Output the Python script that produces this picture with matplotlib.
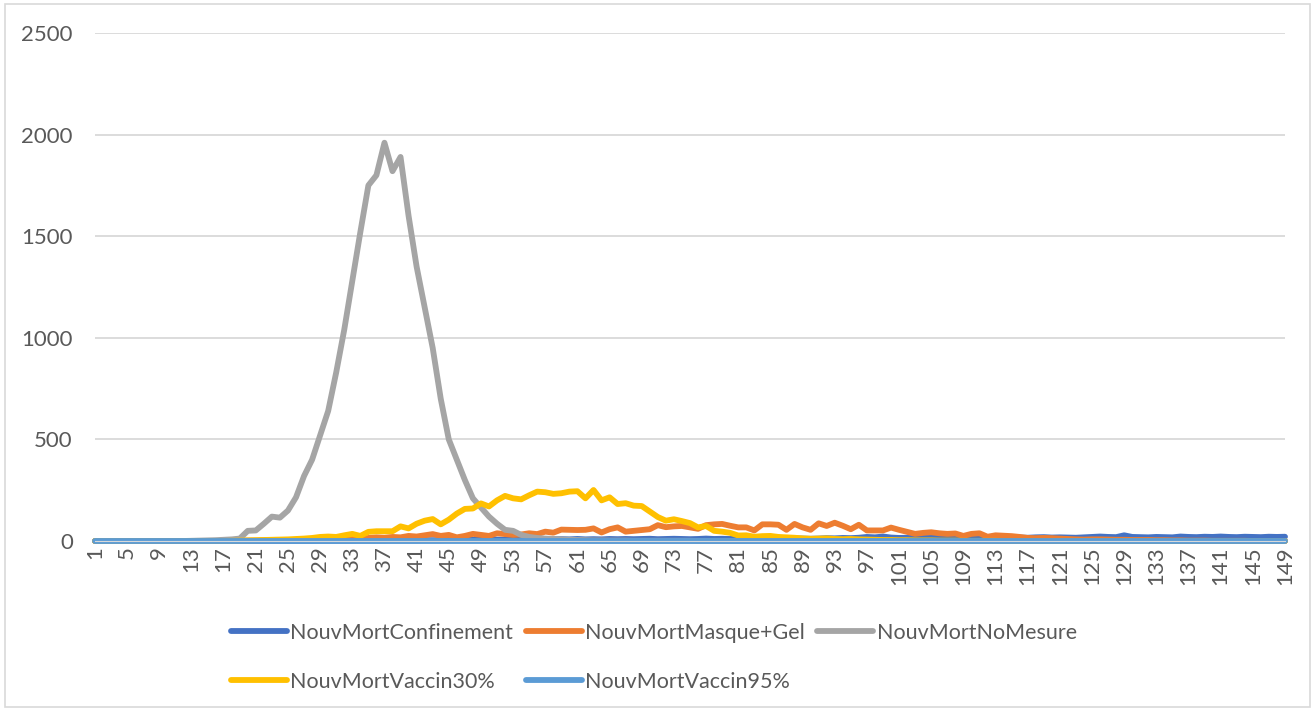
import matplotlib.pyplot as plt
from matplotlib.patches import Rectangle

# jours 1..149
jours = list(range(1, 150))

confinement = [
    0, 0, 0, 0, 0, 0, 0, 0, 0, 0,
    0, 0, 0, 0, 0, 0, 0, 0, 0, 0,
    0, 0, 0, 0, 0, 0, 0, 0, 1, 1,
    1, 1, 1, 2, 2, 2, 2, 3, 3, 3,
    3, 4, 4, 4, 5, 5, 5, 6, 6, 6,
    7, 6, 7, 8, 7, 8, 7, 8, 9, 8,
    10, 8, 9, 8, 10, 9, 10, 9, 10, 11,
    9, 10, 11, 10, 9, 10, 12, 10, 11, 10,
    12, 14, 11, 12, 10, 12, 11, 13, 12, 11,
    12, 14, 13, 15, 14, 16, 20, 18, 22, 17,
    15, 16, 15, 17, 16, 18, 17, 16, 18, 17,
    16, 18, 17, 19, 18, 17, 16, 18, 19, 17,
    18, 17, 16, 18, 20, 22, 20, 19, 28, 20,
    19, 18, 20, 19, 18, 22, 20, 19, 21, 20,
    22, 20, 19, 21, 20, 19, 21, 20, 21,
]

masque_gel = [
    0, 0, 0, 0, 0, 0, 0, 0, 0, 0,
    0, 0, 0, 0, 0, 0, 1, 1, 1, 2,
    2, 3, 3, 4, 4, 5, 5, 6, 7, 8,
    8, 10, 12, 10, 15, 18, 16, 20, 18, 25,
    22, 28, 34, 25, 30, 18, 25, 35, 30, 25,
    38, 34, 30, 32, 38, 34, 46, 41, 56, 55,
    54, 55, 62, 42, 58, 67, 46, 50, 54, 58,
    78, 68, 72, 74, 67, 60, 78, 82, 84, 75,
    67, 67, 52, 82, 82, 80, 55, 84, 67, 55,
    87, 74, 90, 75, 58, 80, 52, 52, 52, 66,
    55, 45, 35, 40, 43, 38, 35, 37, 25, 35,
    38, 21, 28, 26, 24, 20, 15, 14, 15, 14,
    12, 10, 8, 7, 8, 8, 7, 6, 6, 5,
    5, 5, 4, 4, 3, 3, 2, 2, 2, 1,
    1, 1, 1, 1, 0, 0, 0, 0, 0,
]

no_mesure = [
    0, 0, 0, 0, 0, 0, 0, 0, 0, 0,
    0, 0, 1, 2, 3, 4, 6, 8, 12, 50,
    52, 85, 120, 115, 150, 215, 320, 400, 520, 640,
    830, 1040, 1280, 1520, 1750, 1800, 1960, 1820, 1890, 1600,
    1350, 1150, 950, 700, 500, 400, 300, 210, 165, 120,
    85, 55, 50, 30, 20, 15, 12, 10, 8, 6,
    5, 4, 3, 3, 2, 2, 2, 1, 1, 1,
    1, 1, 1, 1, 1, 0, 0, 0, 0, 0,
    0, 0, 0, 0, 0, 0, 0, 0, 0, 0,
    0, 0, 0, 0, 0, 0, 0, 0, 0, 0,
    0, 0, 0, 0, 0, 0, 0, 0, 0, 0,
    0, 0, 0, 0, 0, 0, 0, 0, 0, 0,
    0, 0, 0, 0, 0, 0, 0, 0, 0, 0,
    0, 0, 0, 0, 0, 0, 0, 0, 0, 0,
    0, 0, 0, 0, 0, 0, 0, 0, 0,
]

vaccin30 = [
    0, 0, 0, 0, 0, 0, 0, 0, 0, 0,
    0, 0, 0, 0, 0, 0, 0, 1, 2, 3,
    4, 5, 6, 7, 8, 10, 12, 15, 20, 22,
    20, 28, 35, 25, 45, 48, 48, 48, 72, 62,
    85, 100, 108, 82, 105, 135, 158, 160, 185, 170,
    200, 222, 210, 205, 225, 243, 240, 232, 235, 243,
    245, 210, 251, 200, 215, 182, 186, 174, 172, 145,
    118, 100, 107, 98, 88, 67, 74, 50, 46, 40,
    27, 28, 21, 24, 25, 20, 18, 16, 13, 11,
    12, 13, 10, 9, 10, 8, 7, 6, 5, 5,
    4, 4, 3, 3, 3, 2, 2, 2, 1, 1,
    1, 1, 1, 0, 0, 0, 0, 0, 0, 0,
    0, 0, 0, 0, 0, 0, 0, 0, 0, 0,
    0, 0, 0, 0, 0, 0, 0, 0, 0, 0,
    0, 0, 0, 0, 0, 0, 0, 0, 0,
]

vaccin95 = [
    0, 0, 0, 0, 0, 0, 0, 0, 0, 0,
    0, 0, 0, 0, 0, 0, 0, 0, 0, 0,
    0, 0, 0, 0, 0, 0, 0, 0, 0, 0,
    0, 0, 0, 0, 0, 0, 0, 0, 0, 0,
    0, 0, 0, 0, 0, 0, 0, 0, 0, 0,
    0, 0, 0, 0, 0, 0, 0, 0, 0, 0,
    0, 0, 0, 0, 0, 0, 0, 0, 0, 0,
    0, 0, 0, 0, 0, 0, 0, 0, 0, 0,
    0, 0, 0, 0, 0, 0, 0, 0, 0, 0,
    0, 0, 0, 0, 0, 0, 0, 0, 0, 0,
    0, 0, 0, 0, 0, 0, 0, 0, 0, 0,
    0, 0, 0, 0, 0, 0, 0, 0, 0, 0,
    0, 0, 0, 0, 0, 0, 0, 0, 0, 0,
    0, 0, 0, 0, 0, 0, 0, 0, 0, 0,
    0, 0, 0, 0, 0, 0, 0, 0, 0,
]

series = [
    ("NouvMortConfinement", confinement, "#4472C4"),
    ("NouvMortMasque+Gel", masque_gel, "#ED7D31"),
    ("NouvMortNoMesure", no_mesure, "#A5A5A5"),
    ("NouvMortVaccin30%", vaccin30, "#FFC000"),
    ("NouvMortVaccin95%", vaccin95, "#5B9BD5"),
]

plt.rcParams["font.family"] = ["Lato", "DejaVu Sans"]
texte = "#595959"
grille = "#D9D9D9"

fig = plt.figure(figsize=(13.15, 7.11), dpi=100)
ax = fig.add_axes([95 / 1315, 1 - 541 / 711, 1190 / 1315, 508 / 711])

lignes = []
for nom, valeurs, couleur in series:
    l, = ax.plot(jours, valeurs, color=couleur, linewidth=4.2, label=nom,
                 solid_capstyle="round", solid_joinstyle="round", clip_on=False)
    lignes.append(l)

ax.set_xlim(1, 149)
ax.set_ylim(0, 2500)
ax.set_yticks([0, 500, 1000, 1500, 2000, 2500])
ax.set_xticks(jours[::4])
ax.set_xticklabels([str(j) for j in jours[::4]], rotation=90)
ax.grid(axis="y", color=grille, linewidth=1.3)
ax.set_axisbelow(True)
for cote in ["top", "right", "left"]:
    ax.spines[cote].set_visible(False)
ax.spines["bottom"].set_color(grille)
ax.tick_params(axis="both", length=0, labelsize=16, labelcolor=texte)
ax.tick_params(axis="y", pad=16)
ax.tick_params(axis="x", pad=4)

# ordre ligne par ligne comme dans Excel
ordre = [0, 3, 1, 4, 2]
fig.legend([lignes[i] for i in ordre], [series[i][0] for i in ordre],
           loc="upper left", bbox_to_anchor=(222 / 1315, 1 - 614 / 711),
           ncol=3, frameon=False, fontsize=15.5, labelcolor=texte,
           handlelength=2.6, handletextpad=0.15, columnspacing=0.6,
           labelspacing=1.35, borderaxespad=0)

fig.add_artist(Rectangle((5 / 1315, 4 / 711), 1305 / 1315, 703 / 711,
                         transform=fig.transFigure, fill=False,
                         edgecolor=grille, linewidth=1.2))

plt.savefig("out.png", dpi=100)
